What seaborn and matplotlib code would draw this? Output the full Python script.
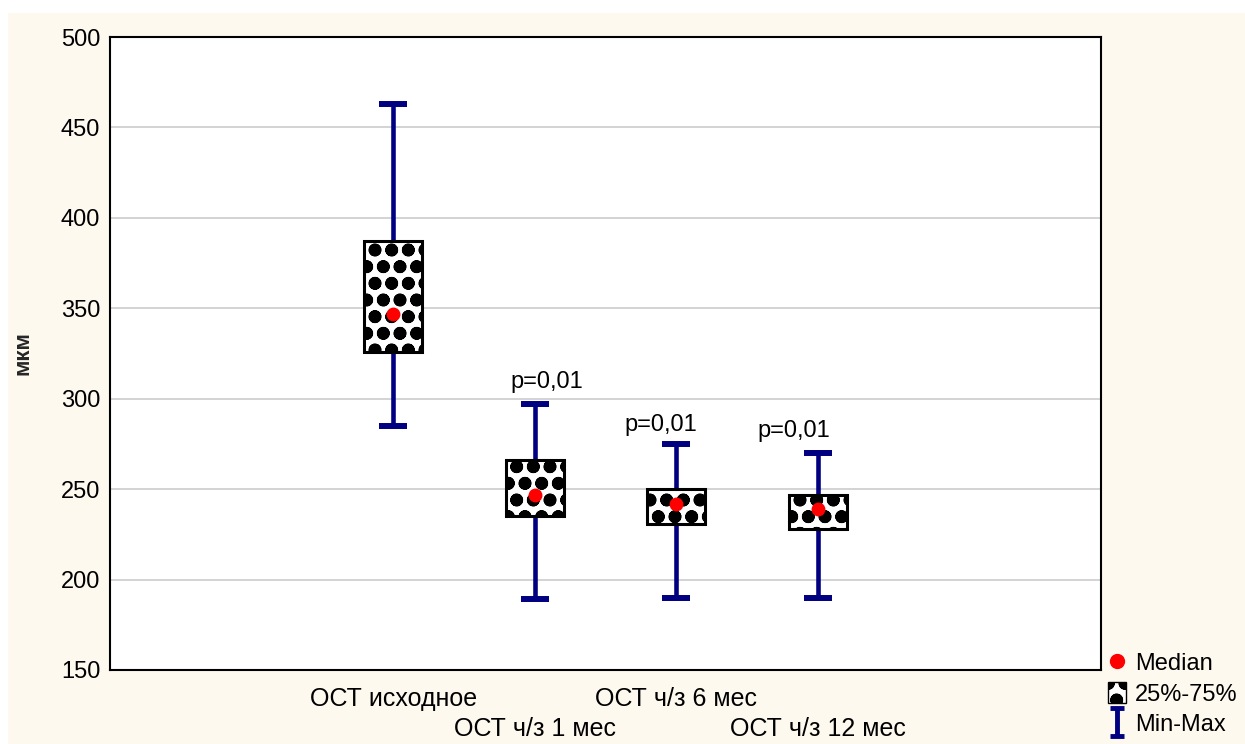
import numpy as np
import pandas as pd
import matplotlib
matplotlib.use("Agg")
import matplotlib.pyplot as plt
import seaborn as sns
from matplotlib.lines import Line2D
from matplotlib.patches import Patch, Rectangle
from matplotlib.path import Path
from matplotlib import font_manager

# data
categories = ["ОСТ исходное", "ОСТ ч/з 1 мес", "ОСТ ч/з 6 мес", "ОСТ ч/з 12 мес"]
mins = [285, 189, 190, 190]
q1 = [326, 235, 231, 228]
medians = [347, 247, 242, 239]
q3 = [387, 266, 250, 247]
maxs = [463, 297, 275, 270]
p_labels = ["", "p=0,01", "p=0,01", "p=0,01"]

NAVY = "#000080"
CREAM = "#FEF9EF"

# five points per group -> quartiles land exactly on the values (whis=(0,100) gives min-max)
rows = []
for i, c in enumerate(categories):
    for v in (mins[i], q1[i], medians[i], q3[i], maxs[i]):
        rows.append({"group": c, "value": v})
df = pd.DataFrame(rows)
df_med = pd.DataFrame({"group": categories, "value": medians})

sns.set_style("white")
names = {f.name for f in font_manager.fontManager.ttflist}
narrow = "Liberation Sans Narrow" in names
plt.rcParams["font.family"] = (["Liberation Sans Narrow"] if narrow else []) + ["Liberation Sans", "DejaVu Sans"]
plt.rcParams["text.color"] = "black"
FS = 20 if narrow else 17
plt.rcParams["hatch.linewidth"] = 4.5
plt.rcParams["hatch.color"] = "black"

fig = plt.figure(figsize=(12.45, 7.44), dpi=100, facecolor="white")
fig.patches.append(Rectangle((8 / 1245, 0), 1, 1 - 13 / 744, transform=fig.transFigure,
                             facecolor=CREAM, edgecolor="none", zorder=-10))
ax = fig.add_axes([110 / 1245, 1 - 670 / 744, (1101 - 110) / 1245, (670 - 37) / 744])
ax.set_facecolor("white")

sns.boxplot(data=df, x="group", y="value", order=categories, whis=(0, 100), width=0.41,
            showfliers=False, ax=ax, color="white", linecolor="black", linewidth=2.2,
            medianprops=dict(visible=False),
            whiskerprops=dict(color=NAVY, linewidth=3.3),
            capprops=dict(color=NAVY, linewidth=4.3, solid_capstyle="butt"),
            capwidths=0.2)
for patch in ax.patches:
    patch.set_hatch("o")
    patch.set_edgecolor("black")
    patch.set_facecolor("white")
    patch.set_zorder(3)

sns.stripplot(data=df_med, x="group", y="value", order=categories, jitter=False,
              color="red", size=10, ax=ax, zorder=5)

# p-value annotations above the max caps
p_x = [0, 1.087, 1.892, 2.83]
p_y = [0, 309.5, 285.5, 282]
for i, lab in enumerate(p_labels):
    if lab:
        ax.text(p_x[i], p_y[i], lab, ha="center", va="center", fontsize=FS)

ax.set_xlim(-2, 5)
ax.set_ylim(150, 500)
ax.set_yticks(np.arange(150, 501, 50))
ax.set_xticks(np.arange(-1, 5))
ax.set_xticklabels([])
ax.tick_params(axis="both", direction="in", length=4, width=1.2, labelsize=FS, colors="black", pad=7)
ax.yaxis.grid(True, color="#d0d0d0", linewidth=1.3)
ax.set_axisbelow(True)
for sp in ax.spines.values():
    sp.set_visible(True)
    sp.set_color("black")
    sp.set_linewidth(1.5)

# staggered category labels under the axis
for i, c in enumerate(categories):
    y_off = -0.027 if i % 2 == 0 else -0.075
    ax.text(i, y_off, c, transform=ax.get_xaxis_transform(), ha="center", va="top", fontsize=FS + 1)

ax.set_xlabel("")
ax.set_ylabel("мкм", fontsize=FS - 1, fontweight="bold")
ax.yaxis.set_label_coords(-(110 - 33) / 991, 0.5)

ibeam = Path([(-0.5, 1), (0.5, 1), (0, 1), (0, -1), (-0.5, -1), (0.5, -1)],
             [Path.MOVETO, Path.LINETO, Path.MOVETO, Path.LINETO, Path.MOVETO, Path.LINETO])
handles = [
    Line2D([], [], marker="o", color="red", linestyle="none", markersize=10),
    Patch(facecolor="white", edgecolor="black", hatch="o"),
    Line2D([], [], marker=ibeam, color=NAVY, linestyle="none", markersize=20, markeredgewidth=3.5),
]
fig.legend(handles, ["Median", "25%-75%", "Min-Max"], loc="lower left",
           bbox_to_anchor=(1091 / 1245, -9 / 744), frameon=False, fontsize=FS,
           handlelength=0.8, handleheight=1.0, handletextpad=0.35, labelspacing=0.3, borderpad=0.2)

fig.savefig("out.png", dpi=100, facecolor=fig.get_facecolor())
